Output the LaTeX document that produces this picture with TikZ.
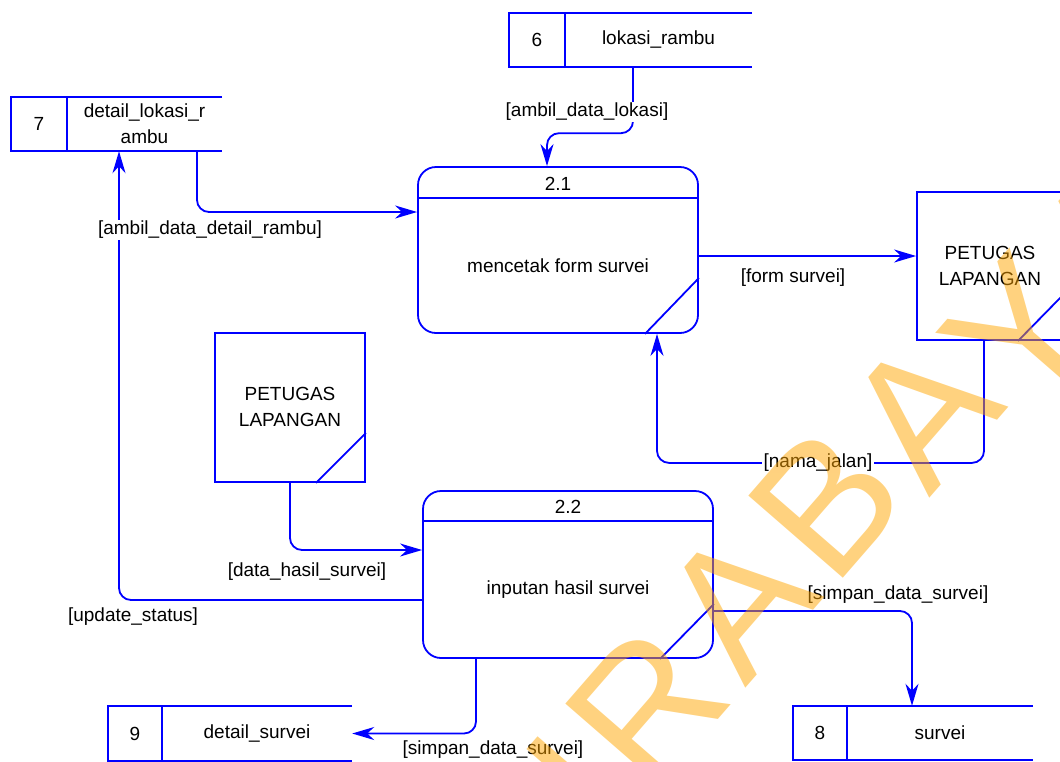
\documentclass[tikz,border=0pt]{standalone}
\usepackage{fontspec}
\setmainfont{Liberation Sans}
\usetikzlibrary{arrows.meta}
\definecolor{dfdblue}{RGB}{0,0,255}
\definecolor{wmorange}{RGB}{255,165,0}

\begin{document}
\begin{tikzpicture}[x=1pt,y=-1pt,
  edge/.style={draw=dfdblue, line width=1.8pt},
  txt/.style={font=\fontsize{19}{26}\selectfont, text=black, inner sep=0pt, align=center},
  lbl/.style={txt, fill=white, inner sep=1.5pt},
  proc/.style={edge, rounded corners=18pt, minimum width=280pt, minimum height=166pt, inner sep=0pt},
  ext/.style={edge, minimum width=150pt, minimum height=148pt, inner sep=0pt},
  cell/.style={txt, minimum height=54pt, inner sep=0pt},
  flow/.style={edge, rounded corners=12pt, -{Stealth[length=22pt,width=13pt,inset=7pt]}},
  wm/.style={font=\fontsize{182}{182}\selectfont, text=wmorange, text opacity=0.5, inner sep=0pt, rotate=49}]

\useasboundingbox (0,0) rectangle (1060,761);

% ---------- data stores ----------
\node[cell, minimum width=56pt]  (s6n) at (537,40)    {6};
\node[cell, minimum width=187pt] (s6)  at (658.5,40)  {lokasi\_rambu};
\node[cell, minimum width=56pt]  (s7n) at (39,124)    {7};
\node[cell, minimum width=155pt] (s7)  at (144.5,124) {detail\_lokasi\_r\\ambu};
\node[cell, minimum width=54pt]  (s9n) at (135,733.5) {9};
\node[cell, minimum width=190pt] (s9)  at (257,733.5) {detail\_survei};
\node[cell, minimum width=54pt]  (s8n) at (820,733)   {8};
\node[cell, minimum width=186pt] (s8)  at (940,733)   {survei};
\foreach \n/\s in {s6n/s6, s7n/s7, s9n/s9, s8n/s8} {
  \draw[edge] (\s.north east) -- (\n.north west) -- (\n.south west) -- (\s.south east);
  \draw[edge] (\n.north east) -- (\n.south east);
}

% ---------- processes ----------
\node[proc] (p21) at (558,250) {};
\draw[edge] ([yshift=-32pt]p21.north west) -- ([yshift=-32pt]p21.north east);
\draw[edge] ([yshift=-28pt]p21.east) -- ([xshift=87pt]p21.south);
\node[txt] (p21id)  at (558,184) {2.1};
\node[txt] (p21txt) at (558,266) {mencetak form survei};

\node[proc, minimum width=290pt, minimum height=167pt] (p22) at (568,574.5) {};
\draw[edge] ([yshift=-31pt]p22.north west) -- ([yshift=-31pt]p22.north east);
\draw[edge] ([yshift=-29.5pt]p22.east) -- ([xshift=92pt]p22.south);
\node[txt] (p22id)  at (568,507) {2.2};
\node[txt] (p22txt) at (568,590) {inputan hasil survei};

% ---------- external entities ----------
\node[ext, minimum height=149pt] (pl) at (290,407.5) {};
\draw[edge] ([yshift=-25.5pt]pl.east) -- ([xshift=26pt]pl.south);
\node[txt] (pltxt) at (290,407) {PETUGAS\\LAPANGAN};

\node[ext] (pr) at (992,266) {};
\draw[edge] ([yshift=-24pt]pr.east) -- ([xshift=26pt]pr.south);
\node[txt] (prtxt) at (990,266) {PETUGAS\\LAPANGAN};

% ---------- data flows ----------
\draw[flow] ([xshift=-25.5pt]s6.south) -- ++(0,66) -| ([xshift=-11pt]p21.north);
\draw[flow] ([xshift=52.5pt]s7.south) |- ([yshift=38pt]p21.west);
\draw[flow] ([yshift=-6pt]p21.east) -- ([yshift=-6pt]p21.east -| pr.west);
\draw[flow] ([xshift=-8pt]pr.south) -- ++(0,122) -| ([xshift=99pt]p21.south);
\draw[flow] (pl.south) |- ([yshift=24.5pt]p22.west);
\draw[flow] ([yshift=-25.5pt]p22.west) -| ([xshift=-25.5pt]s7.south);
\draw[flow] ([yshift=-36.5pt]p22.east) -| ([xshift=-28pt]s8.north);
\draw[flow] ([xshift=-92pt]p22.south) |- (s9.east);

% ---------- flow labels ----------
\node[lbl] (f1) at (587,112) {[ambil\_data\_lokasi]};
\node[lbl] (f2) at (210,230) {[ambil\_data\_detail\_rambu]};
\node[lbl] (f3) at (793,278) {[form survei]};
\node[lbl] (f4) at (818,463) {[nama\_jalan]};
\node[lbl] (f5) at (307,572) {[data\_hasil\_survei]};
\node[lbl] (f6) at (133,617) {[update\_status]};
\node[lbl] (f7) at (898,595) {[simpan\_data\_survei]};
\node[lbl] (f8) at (493,750) {[simpan\_data\_survei]};

% ---------- watermark, set letter by letter along a diagonal ----------
\foreach \ch/\px/\py [count=\i] in {U/552/817, R/646/707, A/738/602, B/826/503,
                                    A/922/412, Y/1020/332, A/1112/236}
  \node[wm] (wm\i) at (\px,\py) {\ch};
\end{tikzpicture}
\end{document}
